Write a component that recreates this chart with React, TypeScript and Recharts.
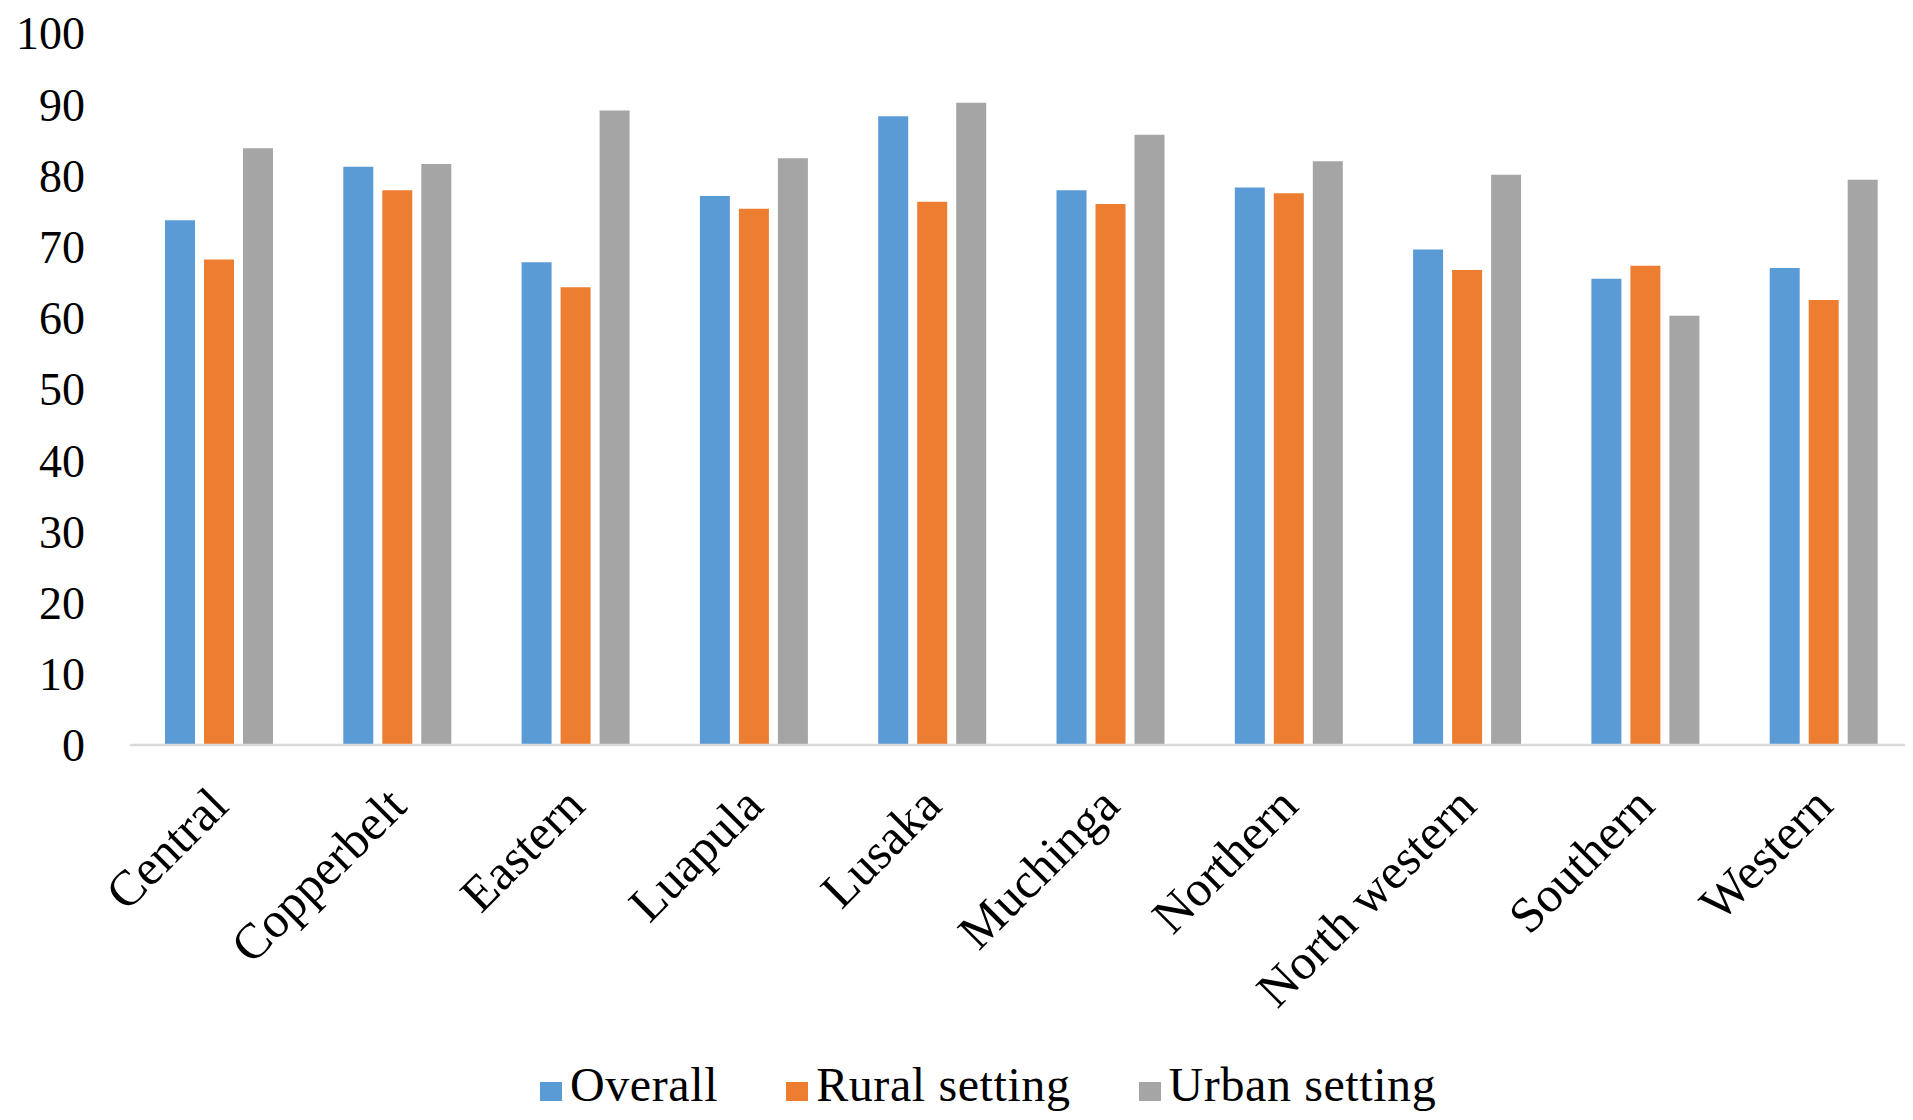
import React from 'react';
import { BarChart, Bar, XAxis, YAxis, Legend } from 'recharts';

const categories = ['Central', 'Copperbelt', 'Eastern', 'Luapula', 'Lusaka', 'Muchinga', 'Northern', 'North western', 'Southern', 'Western'];
const overall = [73.7, 81.2, 67.8, 77.1, 88.3, 77.9, 78.3, 69.6, 65.5, 67.0];
const rural = [68.2, 77.9, 64.3, 75.3, 76.3, 76.0, 77.5, 66.7, 67.3, 62.5];
const urban = [83.8, 81.6, 89.1, 82.4, 90.2, 85.7, 82.0, 80.1, 60.3, 79.4];
const yTicks = [0, 10, 20, 30, 40, 50, 60, 70, 80, 90, 100];

const seriesNames = ['Overall', 'Rural setting', 'Urban setting'];
const seriesColors = ['#5B9BD5', '#ED7D31', '#A5A5A5'];

const data = categories.map((name, i) => ({
  name,
  overall: overall[i],
  rural: rural[i],
  urban: urban[i],
}));

const FONT = '"Liberation Serif", "Times New Roman", serif';

const XTick = (props: any) => {
  const { x, y, payload } = props;
  const ax = x - 1;
  const ay = y + 51;
  return (
    <text
      x={ax}
      y={ay}
      textAnchor="end"
      dy="0.35em"
      transform={`rotate(-45, ${ax}, ${ay})`}
      fontFamily={FONT}
      fontSize={50}
      fill="#000"
    >
      {payload.value}
    </text>
  );
};

const LegendContent = () => (
  <div style={{ height: 40, lineHeight: '38px', whiteSpace: 'nowrap', fontFamily: FONT, fontSize: 48, letterSpacing: 0.6, color: '#000' }}>
    {seriesNames.map((n, i) => (
      <span key={n} style={{ marginRight: i < seriesNames.length - 1 ? 68 : 0 }}>
        <span
          style={{
            display: 'inline-block',
            width: 22,
            height: 19,
            background: seriesColors[i],
            marginRight: 8,
            verticalAlign: 'baseline',
          }}
        />
        {n}
      </span>
    ))}
  </div>
);

export default function App() {
  return (
    <BarChart
      width={1905}
      height={1104}
      data={data}
      margin={{ top: 25, right: 0, left: 0, bottom: 0 }}
      barSize={30}
      barGap={9}
    >
      <XAxis
        dataKey="name"
        height={327}
        interval={0}
        tickLine={false}
        tickSize={0}
        tickMargin={0}
        axisLine={{ stroke: '#D9D9D9', strokeWidth: 2.5 }}
        tick={<XTick />}
      />
      <YAxis
        width={122}
        domain={[0, 100]}
        ticks={yTicks}
        interval={0}
        axisLine={false}
        tickLine={false}
        tickSize={0}
        tickMargin={45}
        tick={{ fontFamily: FONT, fontSize: 46, fill: '#000' }}
      />
      <Legend
        verticalAlign="bottom"
        content={<LegendContent />}
        wrapperStyle={{ left: 532, width: 'auto', bottom: 6 }}
      />
      <Bar dataKey="overall" name={seriesNames[0]} fill={seriesColors[0]} isAnimationActive={false} />
      <Bar dataKey="rural" name={seriesNames[1]} fill={seriesColors[1]} isAnimationActive={false} />
      <Bar dataKey="urban" name={seriesNames[2]} fill={seriesColors[2]} isAnimationActive={false} />
    </BarChart>
  );
}
